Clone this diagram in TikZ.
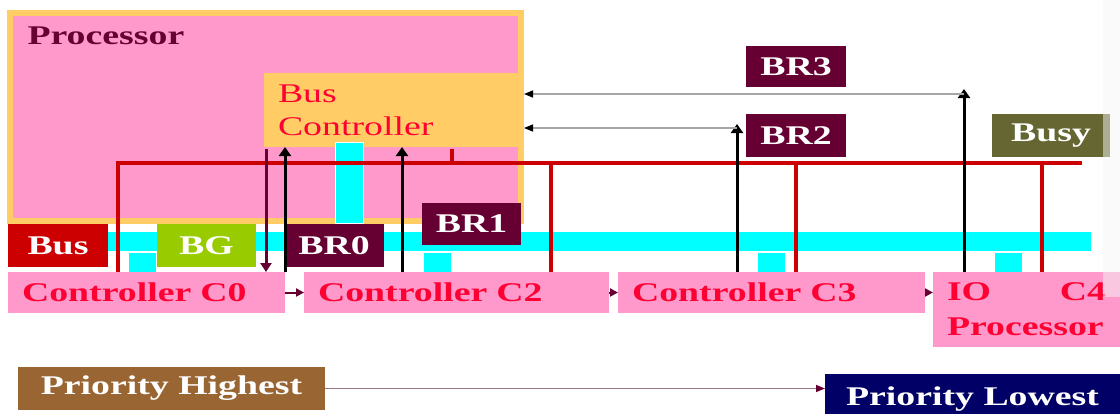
\documentclass[tikz,border=0pt]{standalone}
\usepackage{fontspec}
\setmainfont{Liberation Serif}[FakeStretch=1.4]
\usetikzlibrary{arrows.meta,calc,positioning}

\definecolor{slidepink}{HTML}{FF99CC}
\definecolor{slideorange}{HTML}{FFCC66}
\definecolor{slidecyan}{HTML}{00FFFF}
\definecolor{ctrltext}{HTML}{FF0033}
\definecolor{procpurple}{HTML}{660033}
\definecolor{busred}{HTML}{CC0000}
\definecolor{bggreen}{HTML}{99CC00}
\definecolor{busyolive}{HTML}{666633}
\definecolor{highbrown}{HTML}{996633}
\definecolor{lownavy}{HTML}{000066}
\definecolor{prioline}{HTML}{9C7A8A}

\begin{document}
\begin{tikzpicture}[
  x=1pt,y=-1pt,
  line join=miter,
  >=Latex,
  font=\fontsize{27}{33}\selectfont,
  box/.style={anchor=north west,inner sep=0pt,outer sep=0pt},
  lab/.style={box,text=white,font=\fontsize{27}{33}\selectfont\bfseries,minimum height=43},
  ctrl/.style={box,fill=slidepink,text=ctrltext,font=\fontsize{27}{33}\selectfont\bfseries,
    inner xsep=14pt,align=left,minimum height=41},
  rbus/.style={draw=busred,line width=4pt},
  req/.style={draw=black,line width=3pt,-{Triangle[width=12pt,length=9pt]}},
  grant/.style={draw=procpurple,line width=3pt,-{Triangle[width=11pt,length=9pt]}},
  gline/.style={draw=black!35,line width=1.5pt,-{Triangle[width=7pt,length=9pt,color=black]}},
  chain/.style={draw=procpurple,line width=2pt,-{Triangle[width=8pt,length=8pt]}},
  prio/.style={draw=prioline,line width=1.5pt,-{Triangle[width=7pt,length=9pt,color=procpurple]}},
  cyanbox/.style={fill=slidecyan,draw=white,line width=1pt}
]
\useasboundingbox (0,0) rectangle (1120,413);

% processor with its bus controller
\node[box,fill=slidepink,draw=slideorange,line width=6pt,minimum width=511,minimum height=208] (proc) at (10,12.5) {};
\node[anchor=base west,text=procpurple,font=\fontsize{27}{33}\selectfont\bfseries] (proclab) at (24,44) {Processor};
\node[box,fill=slideorange,text=ctrltext,align=left,inner xsep=14pt,text width=232,minimum height=74] (busctl) at (264,73) {Bus\\Controller};
\draw[cyanbox] (335,142) rectangle (363,223);

% cyan data bus and taps
\fill[slidecyan] (108,232) rectangle (1091,251);
\foreach \x in {128,423,757,994}
  \draw[cyanbox] (\x,252) rectangle ++(28,20);

% controllers
\node[ctrl,text width=249] (c0) at (8,272) {Controller C0};
\node[ctrl,text width=277] (c2) at (304,272) {Controller C2};
\node[ctrl,text width=279] (c3) at (618,272) {Controller C3};
\node[ctrl,text width=159,minimum height=75,font=\fontsize{27}{35}\selectfont\bfseries] (io) at (933,272) {IO\hfill C4\\Processor};

% busy line
\draw[rbus] ($(c0.north west)+(110,0)$) |- (1082,163);
\foreach \x/\n in {551/c2,796/c3,1042/io}
  \draw[rbus] (\x,163) -- (\x,0 |- \n.north);
\draw[rbus] (452,149) -- (452,165);

% signal labels
\node[lab,fill=busred,minimum width=100] (buslab) at (8,224) {Bus};
\node[lab,fill=bggreen,minimum width=99] (bg) at (157,224) {BG};
\node[lab,fill=procpurple,minimum width=100] (br0) at (284,224) {BR0};
\node[lab,fill=procpurple,minimum width=99,minimum height=42] (br1) at (422,203) {BR1};
\node[lab,fill=procpurple,minimum width=100,minimum height=41] (br3) at (746,46) {BR3};
\node[lab,fill=procpurple,minimum width=100] (br2) at (746,114) {BR2};
\node[lab,fill=busyolive,minimum width=118] (busy) at (992,114) {Busy};

% requests and grant
\coordinate (t2) at (737,124);
\coordinate (t3) at (964,89);
\draw[grant] (266,149) -- (266,0 |- c0.north);
\draw[req] (c0.north east) -- (c0.north east |- busctl.south);
\draw[req] (402,0 |- c2.north) -- (402,0 |- busctl.south);
\draw[req] (t2 |- c3.north) -- (t2);
\draw[req] (t3 |- io.north) -- (t3);
\draw[gline] (737,128) -- (737,128 -| busctl.east);
\draw[gline] (964,94) -- (964,94 -| busctl.east);

% daisy chain
\draw[chain] (c0.east) -- (c2.west);
\draw[chain] (c2.east) -- (c3.west);
\draw[chain] (c3.east) -- (c3.east -| io.west);

% priority
\node[lab,fill=highbrown,minimum width=307] (high) at (18,367) {Priority Highest};
\node[lab,fill=lownavy,minimum width=295,minimum height=50] (low) at (825,374) {Priority Lowest};
\draw[prio] (high.east) -- (high.east -| low.west);

\fill[gray!8,opacity=0.5] (1103,0) rectangle (1120,297);
\end{tikzpicture}
\end{document}
